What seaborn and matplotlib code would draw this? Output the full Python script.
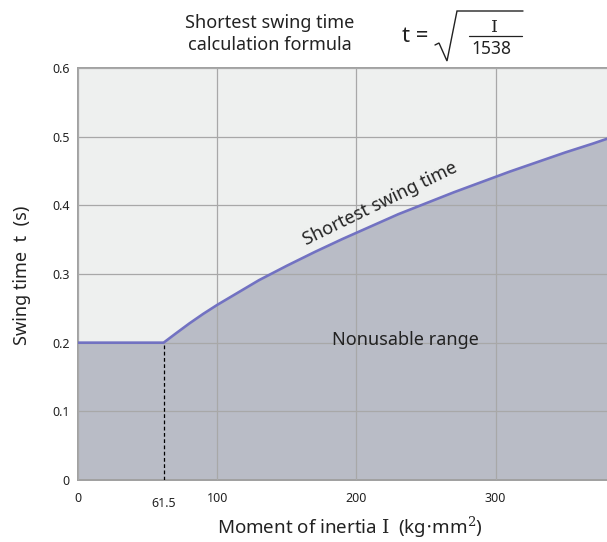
import numpy as np
import pandas as pd
import matplotlib
matplotlib.use("Agg")
import matplotlib.pyplot as plt
import seaborn as sns

# ---- data ----
inertia = [0, 61.5, 70, 80, 90, 100, 115, 130, 150, 170, 190, 210, 230, 250, 270,
           290, 310, 330, 350, 370, 384.5]
swing_time = [0.2, 0.2, 0.213, 0.228, 0.242, 0.255, 0.273, 0.291, 0.312, 0.332, 0.351,
              0.369, 0.387, 0.403, 0.419, 0.434, 0.449, 0.463, 0.477, 0.490, 0.5]
x_ticks = [0, 100, 200, 300]
x_tick_labels = ["0", "100", "200", "300"]
y_ticks = [0, 0.1, 0.2, 0.3, 0.4, 0.5, 0.6]
y_tick_labels = ["0", "0.1", "0.2", "0.3", "0.4", "0.5", "0.6"]
knee_x = 61.5
knee_y = 0.2

df = pd.DataFrame({"I": inertia, "t": swing_time})

sns.set_theme(style="white")
plt.rcParams["font.family"] = ["Noto Sans", "DejaVu Sans"]
plt.rcParams["mathtext.fontset"] = "dejavuserif"

W, H = 607, 542
TXT = "#222222"
fig = plt.figure(figsize=(W / 100, H / 100), dpi=100)
fig.patch.set_facecolor("white")
ax = fig.add_axes([78 / W, (H - 480) / H, 529 / W, 412 / H])
ax.set_facecolor("#eef0ef")

ax.fill_between(df["I"], 0, df["t"], color="#b9bcc6", zorder=1, linewidth=0)
sns.lineplot(data=df, x="I", y="t", ax=ax, color="#7272c2", linewidth=1.9, zorder=4)

ax.plot([knee_x, knee_x], [0, knee_y], color="black", linestyle=(0, (3, 2)), linewidth=0.9, zorder=3)

ax.set_xlim(0, 380)
ax.set_ylim(0, 0.6)
ax.set_xticks(x_ticks)
ax.set_xticklabels(x_tick_labels, fontsize=9, color=TXT)
ax.set_yticks(y_ticks)
ax.set_yticklabels(y_tick_labels, fontsize=9, color=TXT)
ax.tick_params(axis="both", length=0)
ax.tick_params(axis="y", pad=6)
ax.tick_params(axis="x", pad=9)

ax.set_axisbelow(False)
ax.grid(True, color="#a8a8a8", linewidth=0.9, zorder=2)

for s in ["left", "bottom", "top"]:
    ax.spines[s].set_color("#a0a0a0")
    ax.spines[s].set_linewidth(1.4)
ax.spines["right"].set_visible(False)

ax.set_xlabel("")
ax.set_ylabel("")

# extra x tick label for the knee
ax.text(knee_x, -0.025, "61.5", ha="center", va="top", fontsize=9, color=TXT)

# axis labels
fig.text(350 / W, 1 - 527 / H, r"Moment of inertia $\mathrm{I}$  (kg$\cdot$mm$^{2}$)",
         ha="center", va="center", fontsize=13.5, color=TXT)
fig.text(22 / W, 1 - 275 / H, "Swing time  t  (s)", rotation=90,
         ha="center", va="center", fontsize=13, color=TXT)

# in-plot annotations
ax.text(235, 0.204, "Nonusable range", ha="center", va="center", fontsize=13, color=TXT)
ax.text(217, 0.402, "Shortest swing time", ha="center", va="center", fontsize=13,
        rotation=26, rotation_mode="anchor", color=TXT)

# header
fig.text(270 / W, 1 - 34 / H, "Shortest swing time\ncalculation formula",
         ha="center", va="center", fontsize=13, color=TXT, linespacing=1.3)
fig.text(415 / W, 1 - 37 / H, "t =", ha="center", va="center", fontsize=16, color=TXT)
sq_x = [435, 439, 447, 457, 523]
sq_y = [45, 43, 61, 11, 11]
fig.add_artist(plt.Line2D([v / W for v in sq_x], [1 - v / H for v in sq_y],
                          color=TXT, linewidth=1.0, solid_joinstyle="miter"))
fig.add_artist(plt.Line2D([469 / W, 522 / W], [1 - 36 / H, 1 - 36 / H], color=TXT, linewidth=0.9))
fig.text(494 / W, 1 - 27 / H, r"$\mathrm{I}$", ha="center", va="center", fontsize=12.5, color=TXT)
fig.text(491 / W, 1 - 49 / H, "1538", ha="center", va="center", fontsize=12.5, color=TXT)

fig.savefig("out.png", dpi=100, facecolor="white")
